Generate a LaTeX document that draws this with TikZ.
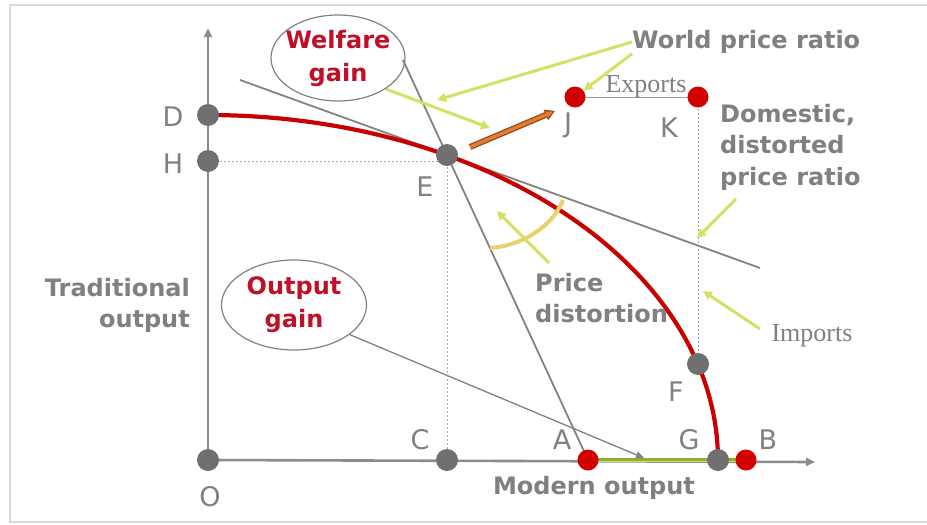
\documentclass[tikz,border=0pt]{standalone}
\usepackage{fontspec}
\setmainfont{DejaVu Sans}
\newfontfamily\serifx{Liberation Serif}
\usetikzlibrary{arrows.meta,backgrounds,shapes.geometric}
\definecolor{txtgray}{RGB}{128,128,128}
\definecolor{dotgray}{RGB}{112,112,112}
\definecolor{linegray}{RGB}{130,130,130}
\definecolor{axgray}{RGB}{140,140,140}
\definecolor{redc}{RGB}{200,0,0}
\definecolor{redtxt}{RGB}{192,16,40}
\definecolor{dotred}{RGB}{210,0,0}
\definecolor{ygreen}{RGB}{212,225,100}
\definecolor{olive}{RGB}{140,175,55}
\definecolor{orangec}{RGB}{230,125,50}
\definecolor{brownc}{RGB}{150,80,30}
\definecolor{arcy}{RGB}{232,210,110}
\definecolor{framec}{RGB}{218,218,218}
\tikzset{
  dotg/.style={circle, fill=dotgray, inner sep=0pt, minimum size=22pt},
  dotr/.style={circle, fill=dotred, inner sep=0pt, minimum size=21pt},
  letter/.style={text=txtgray, font=\fontsize{27}{30}\selectfont, inner sep=0pt},
  boldlbl/.style={text=txtgray, font=\bfseries\fontsize{24}{31.5}\selectfont, inner sep=0pt},
  redlbl/.style={text=redtxt, font=\bfseries\fontsize{24}{33}\selectfont, inner sep=0pt, align=center},
  seriflbl/.style={text=txtgray, font=\serifx\fontsize{26}{28}\selectfont, inner sep=0pt},
  bubble/.style={ellipse, draw=linegray, line width=1.2pt, inner sep=0pt},
  yarrow/.style={draw=ygreen, line width=3pt, -{Triangle[length=9pt,width=9pt]}},
  priceline/.style={draw=linegray, line width=1.8pt},
  guide/.style={draw=linegray!70, line width=1pt, dash pattern=on 2pt off 2pt},
  axis/.style={draw=axgray, line width=2.6pt, -{Triangle[length=9pt,width=8pt]}}
}
\begin{document}
\begin{tikzpicture}[x=1pt,y=-1pt]
\useasboundingbox (0,0) rectangle (927,525);

% points
\node[dotg] (O) at (208,460) {};
\node[dotg] (D) at (208,115) {};
\node[dotg] (H) at (208,161) {};
\node[dotg] (E) at (447,155) {};
\node[dotg] (C) at (447,460) {};
\node[dotr] (A) at (588,460) {};
\node[dotg] (G) at (718,460) {};
\node[dotr] (B) at (746,460) {};
\node[dotg] (F) at (698,364) {};
\node[dotr] (J) at (575,97) {};
\node[dotr] (K) at (698,97) {};

% letter labels
\node[letter] at (210,497) {O};
\node[letter] at (173,117) {D};
\node[letter] at (173,164) {H};
\node[letter] at (425,187) {E};
\node[letter] at (420,440) {C};
\node[letter] at (562,440) {A};
\node[letter] at (689,440) {G};
\node[letter] at (768,440) {B};
\node[letter] at (676,392) {F};
\node[letter] at (568,125) {J};
\node[letter] at (669,128) {K};

% text labels
\node[bubble, minimum width=134pt, minimum height=86pt] (wg) at (338,58) {};
\node[redlbl] at (wg.center) {Welfare\\gain};
\node[bubble, minimum width=145pt, minimum height=90pt] (og) at (294,305) {};
\node[redlbl] at (og.center) {Output\\gain};
\node[boldlbl, anchor=west] (wpr) at (632,42) {World price ratio};
\node[boldlbl, anchor=north west, align=left] (dpr) at (720,104) {Domestic,\\distorted\\price ratio};
\node[boldlbl, anchor=north west, align=left] (pd) at (535,273) {Price\\distortion};
\node[boldlbl, anchor=north east, align=right] (to) at (190,278) {Traditional\\output};
\node[boldlbl] (mo) at (594,488) {Modern output};
\node[seriflbl] (exp) at (646,87) {Exports};
\node[seriflbl] (imp) at (812,336) {Imports};

% free ends
\coordinate (w1) at (403,60);
\coordinate (d1) at (240,80);
\coordinate (d2) at (760,268);
\coordinate (t1) at (437,100);
\coordinate (t2) at (490,128);
\coordinate (t3) at (697,238);
\coordinate (s3) at (736,199);
\coordinate (t4) at (703,291);
\coordinate (s4) at (760,329);
\coordinate (t5) at (497,211);
\coordinate (s5) at (549,263);
\coordinate (t6) at (644,458);
\coordinate (o1) at (470,147);
\coordinate (o2) at (555,111);
\coordinate (a1) at (490,248);
\coordinate (a2) at (563,200);
\coordinate (yt) at (208,28);
\coordinate (xt) at (815,462);

\begin{scope}[on background layer]
  \fill[white] (0,0) rectangle (927,525);
  \draw[framec, line width=2pt] (927,5) -- (10,5) -- (10,522) -- (927,522);
  \draw[axis] (O.center) -- (yt);
  \draw[axis] (O.center) -- (xt);
  \draw[draw=olive, line width=4pt] (A.center) -- (B.center);
  \draw[draw=ygreen, line width=1.5pt] ([yshift=-1.5pt]A.center) -- ([yshift=-1.5pt]B.center);
  \draw[guide] (H.center) -- (H.center -| E.center);
  \draw[guide] (E.center) -- (C.center);
  \draw[guide] (K.center) -- (F.center);
  \draw[draw=linegray!80, line width=1pt] (J.center) -- (K.center);
  \draw[priceline] (w1) -- (A.center);
  \draw[priceline] (d1) -- (d2);
  \draw[draw=linegray, line width=1.3pt, -{Triangle[length=8pt,width=7pt]}] (og.-28) -- (t6);
  \draw[draw=redc, line width=4.2pt] plot[domain=0:90, samples=80] ({208+510*cos(\x)},{460-345*sin(\x)});
  \draw[draw=arcy, line width=4pt] (a1) .. controls (520,246) and (552,228) .. (a2);
  \draw[yarrow] (wg.-33) -- (t2);
  \draw[yarrow] (wpr.west) -- (t1);
  \draw[yarrow] (wpr.south west) -- (J);
  \draw[yarrow] (s3) -- (t3);
  \draw[yarrow] (s4) -- (t4);
  \draw[yarrow] (s5) -- (t5);
  \draw[draw=brownc, line width=6pt, -{Triangle[length=10pt,width=11pt]}] (o1) -- (o2);
  \draw[draw=orangec, line width=3.2pt, shorten >=2pt, -{Triangle[length=7pt,width=6pt]}] (o1) -- (o2);
\end{scope}
\end{tikzpicture}
\end{document}
